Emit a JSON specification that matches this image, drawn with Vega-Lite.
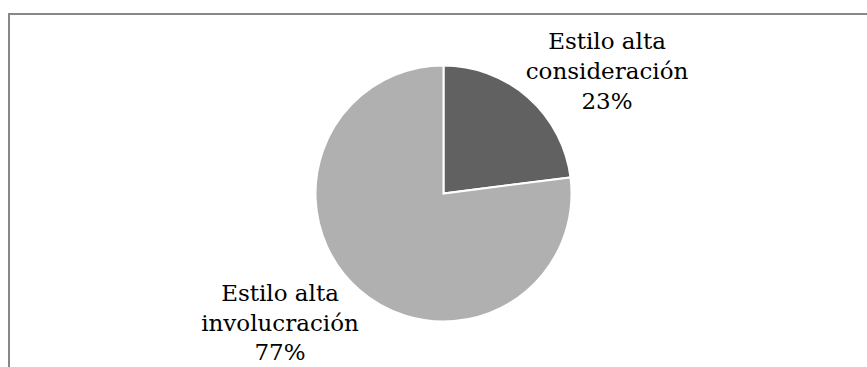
{
  "$schema": "https://vega.github.io/schema/vega-lite/v6.json",
  "width": 869,
  "height": 359,
  "padding": {"left": 9, "top": 14, "right": 0, "bottom": 0},
  "autosize": {"type": "none"},
  "background": "white",
  "view": {"stroke": "#878787", "strokeWidth": 2},
  "config": {"view": {"stroke": "#878787", "strokeWidth": 2}},
  "data": {
    "values": [
      {"category": "Estilo alta consideración", "value": 23, "label": "Estilo alta\nconsideración\n23%"},
      {"category": "Estilo alta involucración", "value": 77, "label": "Estilo alta\ninvolucración\n77%"}
    ]
  },
  "transform": [
    {"stack": "value", "groupby": [], "sort": [{"field": "category", "order": "ascending"}], "as": ["v0", "v1"]}
  ],
  "encoding": {
    "theta": {"field": "v0", "type": "quantitative", "scale": {"domain": [0, 100]}},
    "theta2": {"field": "v1"}
  },
  "layer": [
    {
      "mark": {"type": "arc", "outerRadius": 128, "stroke": "white", "strokeWidth": 2},
      "encoding": {
        "color": {
          "field": "category",
          "type": "nominal",
          "scale": {"domain": ["Estilo alta consideración", "Estilo alta involucración"], "range": ["#616161", "#b0b0b0"]},
          "legend": null
        }
      }
    },
    {
      "transform": [{"filter": "datum.value == 23"}],
      "mark": {"type": "text", "font": "DejaVu Serif", "radius": 0, "fontSize": 23, "lineHeight": 30, "lineBreak": "\n", "align": "center", "baseline": "middle", "dx": 163.5, "dy": -151.5, "color": "black"},
      "encoding": {"text": {"field": "label"}}
    },
    {
      "transform": [{"filter": "datum.value == 77"}],
      "mark": {"type": "text", "font": "DejaVu Serif", "radius": 0, "fontSize": 23, "lineHeight": 29.5, "lineBreak": "\n", "align": "center", "baseline": "middle", "dx": -163.5, "dy": 100.5, "color": "black"},
      "encoding": {"text": {"field": "label"}}
    }
  ]
}
